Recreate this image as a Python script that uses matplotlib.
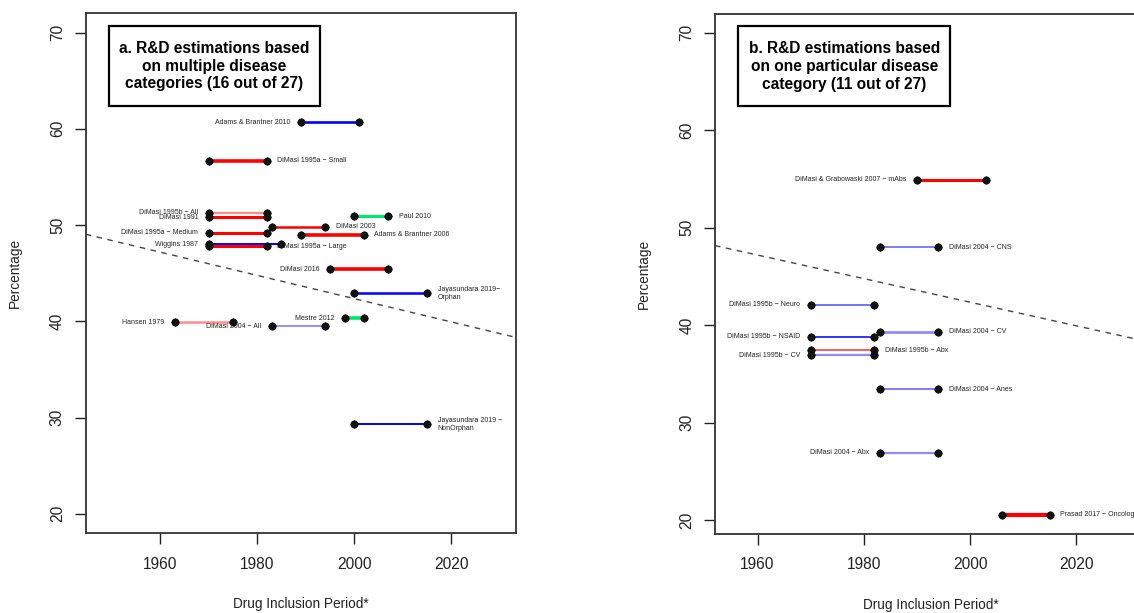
import matplotlib
matplotlib.use("Agg")
import matplotlib.pyplot as plt
from matplotlib.patches import Rectangle

plt.rcParams['font.family'] = ['Liberation Sans', 'DejaVu Sans']

M = "\u2212"

# panel a: estimations based on multiple disease categories
a_studies = ["Adams & Brantner 2010", f"DiMasi 1995a {M} Small", f"DiMasi 1995b {M} All",
             "DiMasi 1991", "Paul 2010", "DiMasi 2003", "Adams & Brantner 2006",
             f"DiMasi 1995a {M} Medium", "Wiggins 1987", f"DiMasi 1995a {M} Large",
             "DiMasi 2016", f"Jayasundara 2019{M}\nOrphan", "Mestre 2012", "Hansen 1979",
             f"DiMasi 2004 {M} All", f"Jayasundara 2019 {M}\nNonOrphan"]
a_start = [1989, 1970, 1970, 1970, 2000, 1983, 1989, 1970, 1970, 1970,
           1995, 2000, 1998, 1963, 1983, 2000]
a_end = [2001, 1982, 1982, 1982, 2007, 1994, 2002, 1982, 1985, 1982,
         2007, 2015, 2002, 1975, 1994, 2015]
a_pct = [60.7, 56.7, 51.3, 50.8, 50.9, 49.8, 49.0, 49.2, 48.0, 47.8,
         45.4, 42.9, 40.3, 39.9, 39.5, 29.3]

# panel b: estimations based on one particular disease category
b_studies = [f"DiMasi & Grabowaski 2007 {M} mAbs", f"DiMasi 2004 {M} CNS",
             f"DiMasi 1995b {M} Neuro", f"DiMasi 2004 {M} CV", f"DiMasi 1995b {M} NSAID",
             f"DiMasi 1995b {M} Abx", f"DiMasi 1995b {M} CV", f"DiMasi 2004 {M} Anes",
             f"DiMasi 2004 {M} Abx", f"Prasad 2017 {M} Oncology"]
b_start = [1990, 1983, 1970, 1983, 1970, 1970, 1970, 1983, 1983, 2006]
b_end = [2003, 1994, 1982, 1994, 1982, 1982, 1982, 1994, 1994, 2015]
b_pct = [54.9, 48.0, 42.1, 39.3, 38.8, 37.4, 36.9, 33.4, 26.9, 20.55]

# fitted trend (same line on both panels)
trend_year = 2000
trend_pct = 42.35
trend_slope = -0.121

# styling
RED, BLUE, GREEN = "#ff0000", "#0000ff", "#00e86a"
a_colors = [BLUE, RED, RED, RED, GREEN, RED, RED, RED, BLUE, RED, RED, BLUE, GREEN, RED, BLUE, BLUE]
a_widths = [1.9, 2.6, 1.6, 2.2, 2.2, 1.8, 2.6, 2.2, 1.4, 2.2, 2.6, 1.8, 2.6, 1.8, 1.1, 1.4]
a_alpha = [1, 1, 0.45, 1, 1, 1, 1, 1, 1, 1, 1, 1, 1, 0.45, 0.55, 1]
a_side = ["l", "r", "l", "l", "r", "r", "r", "l", "l", "r", "l", "r", "l", "l", "l", "r"]

b_colors = [RED, BLUE, BLUE, BLUE, BLUE, RED, BLUE, BLUE, BLUE, RED]
b_widths = [2.2, 1.1, 1.1, 2.0, 1.4, 1.1, 1.6, 1.1, 1.6, 3.0]
b_alpha = [1, 0.65, 0.7, 0.45, 0.8, 0.8, 0.45, 0.65, 0.45, 1]
b_side = ["l", "r", "l", "r", "l", "r", "l", "r", "l", "r"]


def draw_panel(ax, studies, start, end, pct, colors, widths, alphas, sides, title, ylim):
    for i in range(len(studies)):
        ax.plot([start[i], end[i]], [pct[i], pct[i]], color=colors[i], lw=widths[i],
                alpha=alphas[i], solid_capstyle="butt", zorder=3)
        ax.plot([start[i], end[i]], [pct[i], pct[i]], ls="none", marker="o", ms=4.8,
                color="#111111", zorder=4)
        ax.plot([start[i], end[i]], [pct[i], pct[i]], ls="none", marker="+", ms=5.6,
                mew=0.8, color="#111111", zorder=4)
        if sides[i] == "r":
            ax.annotate(studies[i], (end[i], pct[i]), xytext=(7.5, 0), textcoords="offset points",
                        ha="left", va="center", fontsize=5, color="#222222", zorder=2,
                        linespacing=1.15)
        else:
            ax.annotate(studies[i], (start[i], pct[i]), xytext=(-7.5, 0), textcoords="offset points",
                        ha="right", va="center", fontsize=5, color="#222222", zorder=2,
                        linespacing=1.15)

    ax.axline((trend_year, trend_pct), slope=trend_slope, color="#444444", lw=1.0,
              ls=(0, (4, 4)), zorder=1)

    ax.add_patch(Rectangle((0.054, 0.8222), 0.4905, 0.154, transform=ax.transAxes,
                           facecolor="white", edgecolor="black", lw=1.6, zorder=5))
    ax.text(0.2993, 0.8985, title, transform=ax.transAxes, ha="center", va="center",
            fontsize=11.2, fontweight="bold", linespacing=1.22, zorder=6)

    ax.set_ylim(*ylim)
    ax.set_xticks([1960, 1980, 2000, 2020])
    ax.set_yticks([20, 30, 40, 50, 60, 70])
    ax.tick_params(axis="both", length=8, width=1.0, color="#222222", labelsize=11.2,
                   labelcolor="#222222")
    ax.tick_params(axis="x", pad=9.0)
    ax.tick_params(axis="y", pad=7)
    for lab in ax.get_yticklabels():
        lab.set_rotation(90)
        lab.set_va("center")
    for sp in ax.spines.values():
        sp.set_linewidth(1.3)
        sp.set_color("#333333")
    ax.set_xlabel("Drug Inclusion Period*", fontsize=9.8, color="#222222")
    ax.set_ylabel("Percentage", fontsize=9.8, color="#222222")
    ax.xaxis.set_label_coords(0.5, -0.124)
    ax.yaxis.set_label_coords(-0.148, 0.5)


fig = plt.figure(figsize=(11.34, 6.13), dpi=100)
ax1 = fig.add_axes([0.07557, 0.13051, 0.37946, 0.84779])
ax2 = fig.add_axes([0.63051, 0.12936, 0.38095, 0.84829])

draw_panel(ax1, a_studies, a_start, a_end, a_pct, a_colors, a_widths, a_alpha, a_side,
           "a. R&D estimations based\non multiple disease\ncategories (16 out of 27)", (18, 72))
ax1.set_xlim(1944.7, 2033.3)

draw_panel(ax2, b_studies, b_start, b_end, b_pct, b_colors, b_widths, b_alpha, b_side,
           "b. R&D estimations based\non one particular disease\ncategory (11 out of 27)", (18.6, 71.95))
ax2.set_xlim(1952, 2033.3)

fig.savefig("out.png", dpi=100)
